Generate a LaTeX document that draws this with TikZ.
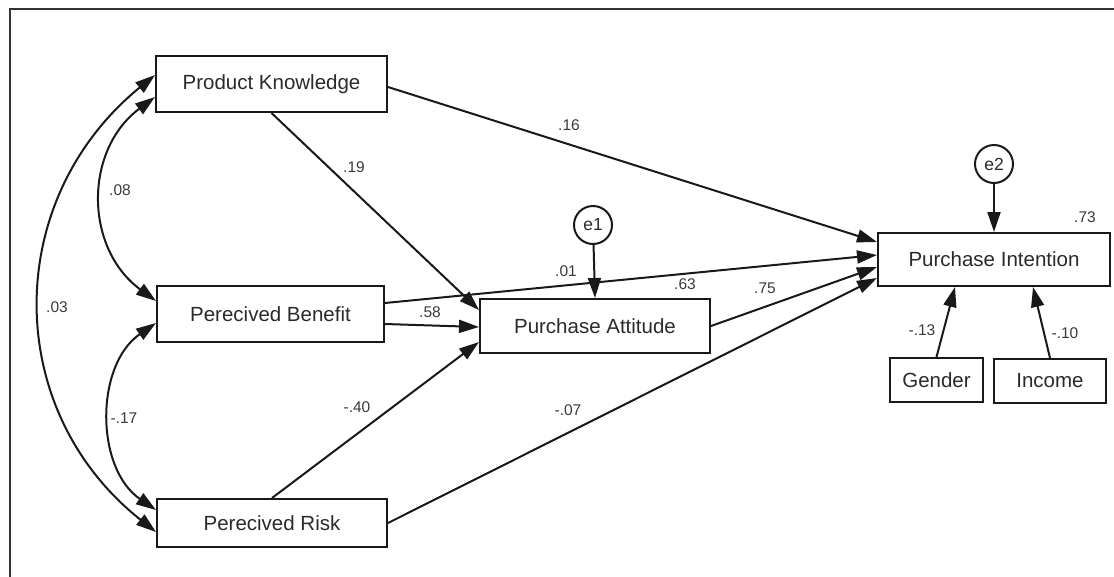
\documentclass[tikz,border=0pt]{standalone}
\usepackage{fontspec}
\setmainfont{Liberation Sans}
\usetikzlibrary{arrows.meta}
\definecolor{txt}{HTML}{2a2a2a}
\definecolor{lbl}{HTML}{3a3a3a}
\tikzset{
  var/.style={draw=black!90, line width=2pt, rectangle, inner sep=0pt, text=txt,
    font=\fontsize{20.5}{24}\selectfont},
  err/.style={draw=black!90, line width=2pt, circle, minimum size=38pt, inner sep=0pt, text=txt,
    font=\fontsize{17.5}{20}\selectfont},
  lab/.style={text=lbl, inner sep=0pt, font=\fontsize{15.5}{18}\selectfont},
  path/.style={line width=2pt, draw=black!90, -{Triangle[length=20pt,width=13pt]}},
  cov/.style={line width=2pt, draw=black!90, {Triangle[length=20pt,width=13pt]}-{Triangle[length=20pt,width=13pt]}},
}
\begin{document}
\begin{tikzpicture}[x=1pt,y=-1pt]
\useasboundingbox (0,0) rectangle (1114,576);
\clip (0,0) rectangle (1114,576);
\draw[line width=1.6pt, black!80] (10,9) rectangle (1130,600);

% boxes
\node[var, minimum width=231pt, minimum height=56pt] (PK) at (271.5,84) {Product Knowledge};
\node[var, minimum width=227pt, minimum height=56pt] (PB) at (270.5,314) {Perecived Benefit};
\node[var, minimum width=230pt, minimum height=48pt] (PR) at (272,523) {Perecived Risk};
\node[var, minimum width=230pt, minimum height=54pt] (PA) at (595,326) {Purchase Attitude};
\node[var, minimum width=232pt, minimum height=53pt] (PI) at (994,259.5) {Purchase Intention};
\node[var, minimum width=93pt, minimum height=44pt] (G) at (936.5,380) {Gender};
\node[var, minimum width=112pt, minimum height=44pt] (I) at (1050,381) {Income};
\node[err] (e1) at (593,225) {e1};
\node[err] (e2) at (994,164) {e2};

% covariances
\draw[cov] ([yshift=-13pt]PK.west) .. controls (84,150) and (84,248) .. ([yshift=13pt]PB.west);
\draw[cov] ([yshift=-9pt]PB.west) .. controls (95,365) and (95,468) .. ([yshift=13pt]PR.west);
\draw[cov] ([yshift=9pt]PK.west) .. controls (2,200) and (2,410) .. ([yshift=-9pt]PR.west);

% paths
\draw[path] ([yshift=-3pt]PK.east) -- ([yshift=17.5pt]PI.west);
\draw[path] (PK.south) -- ([yshift=16pt]PA.west);
\draw[path] ([yshift=11pt]PB.east) -- ([yshift=4.5pt]PI.west);
\draw[path] ([yshift=-10pt]PB.east) -- ([yshift=-1pt]PA.west);
\draw[path] (PR.north) -- ([yshift=-16pt]PA.west);
\draw[path] (PR.east) -- ([yshift=-18.5pt]PI.west);
\draw[path] (PA.east) -- ([yshift=-7.5pt]PI.west);
\draw[path] (e1) -- (PA.north);
\draw[path] (e2) -- (PI.north);
\draw[path] (G.north) -- ([xshift=-39pt]PI.south);
\draw[path] (I.north) -- ([xshift=39pt]PI.south);

% labels
\node[lab] (l16) at (569,125) {.16};
\node[lab] (l19) at (354,167) {.19};
\node[lab] (l08) at (120,190) {.08};
\node[lab] (l03) at (57,307) {.03};
\node[lab] (l17) at (124,418) {-.17};
\node[lab] (l40) at (357,407) {-.40};
\node[lab] (l01) at (566,271) {.01};
\node[lab] (l58) at (430,312) {.58};
\node[lab] (l63) at (685,284) {.63};
\node[lab] (l75) at (765,288) {.75};
\node[lab] (l07) at (568,410) {-.07};
\node[lab] (l73) at (1085,217) {.73};
\node[lab] (l13) at (922,330) {-.13};
\node[lab] (l10) at (1065,333) {-.10};
\end{tikzpicture}
\end{document}
